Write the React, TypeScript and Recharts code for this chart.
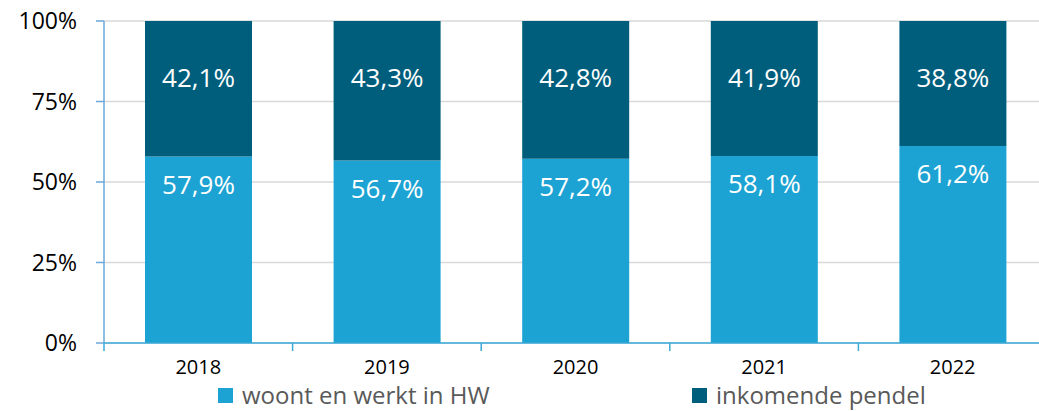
import React from 'react';
import { BarChart, Bar, XAxis, YAxis, CartesianGrid, Legend, LabelList } from 'recharts';

const categories = ['2018', '2019', '2020', '2021', '2022'];
const woontValues = [57.9, 56.7, 57.2, 58.1, 61.2];
const pendelValues = [42.1, 43.3, 42.8, 41.9, 38.8];
const yTicks = [0, 25, 50, 75, 100];
const seriesNames = ['woont en werkt in HW', 'inkomende pendel'];

const data = categories.map((c, i) => ({ year: c, woont: woontValues[i], pendel: pendelValues[i] }));

const CHART_W = 1047;
const CHART_H = 411;
const YAXIS_W = 104;
const STEP = (CHART_W - YAXIS_W) / categories.length;
const FONT = '"Open Sans", "Noto Sans", sans-serif';
const LIGHT = '#1CA3D3';
const DARK = '#005E7D';
const XAXIS_COLOR = '#3AAAD8';
const YAXIS_COLOR = '#6AA8DC';

const fmt = (v: any) => `${Number(v).toFixed(1).replace('.', ',')}%`;

const XTick = (props: any) => {
  const { x, y, payload } = props;
  const axisY = y - 8;
  const bx = x - STEP / 2;
  return (
    <g>
      <line x1={bx} y1={axisY} x2={bx} y2={axisY + 8} stroke={XAXIS_COLOR} strokeWidth={1.5} />
      <text x={x} y={y} dy={23} textAnchor="middle" fill="#000" fontSize={20} fontFamily={FONT}>
        {payload.value}
      </text>
    </g>
  );
};

const LegendContent = (props: any) => {
  const items = [...(props.payload || [])].sort(
    (a: any, b: any) => seriesNames.indexOf(a.value) - seriesNames.indexOf(b.value)
  );
  return (
    <div
      style={{
        width: CHART_W,
        height: 38,
        boxSizing: 'border-box',
        paddingTop: 6,
        paddingLeft: 218,
        display: 'flex',
        alignItems: 'center',
        fontFamily: FONT,
      }}
    >
      {items.map((p: any, i: number) => (
        <div key={i} style={{ width: 474, flexShrink: 0, display: 'flex', alignItems: 'center' }}>
          <span style={{ width: 15, height: 15, background: p.color, display: 'inline-block', marginRight: 9, flexShrink: 0 }} />
          <span style={{ fontSize: 24, color: '#595959', lineHeight: '26px', whiteSpace: 'nowrap' }}>{p.value}</span>
        </div>
      ))}
    </div>
  );
};

export default function App() {
  return (
    <div style={{ position: 'absolute', left: 0, top: 0, width: 1039, height: 411, overflow: 'hidden', background: '#fff' }}>
      <BarChart width={CHART_W} height={CHART_H} data={data} margin={{ top: 21, right: 0, left: 0, bottom: 0 }}>
        <CartesianGrid vertical={false} stroke="#D9D9D9" strokeWidth={1.5} />
        <XAxis
          dataKey="year"
          axisLine={{ stroke: XAXIS_COLOR, strokeWidth: 1.5 }}
          tickLine={false}
          tickSize={8}
          tickMargin={0}
          height={30}
          tick={<XTick />}
          interval={0}
        />
        <YAxis
          width={YAXIS_W}
          domain={[0, 100]}
          ticks={yTicks}
          tickFormatter={(v: any) => `${v}%`}
          axisLine={{ stroke: YAXIS_COLOR, strokeWidth: 1.5 }}
          tickLine={{ stroke: YAXIS_COLOR, strokeWidth: 1.5 }}
          tickSize={8}
          tickMargin={19}
          tick={{ fill: '#000', fontSize: 23, fontFamily: FONT }}
          interval={0}
        />
        <Legend verticalAlign="bottom" content={<LegendContent />} wrapperStyle={{ left: 0, bottom: 0, width: CHART_W }} />
        <Bar dataKey="woont" name={seriesNames[0]} stackId="a" fill={LIGHT} barSize={107} isAnimationActive={false}>
          <LabelList dataKey="woont" position="insideTop" offset={19} formatter={fmt} fill="#fff" fontSize={26} fontFamily={FONT} />
        </Bar>
        <Bar dataKey="pendel" name={seriesNames[1]} stackId="a" fill={DARK} barSize={107} isAnimationActive={false}>
          <LabelList dataKey="pendel" position="insideTop" offset={48} formatter={fmt} fill="#fff" fontSize={26} fontFamily={FONT} />
        </Bar>
      </BarChart>
    </div>
  );
}
